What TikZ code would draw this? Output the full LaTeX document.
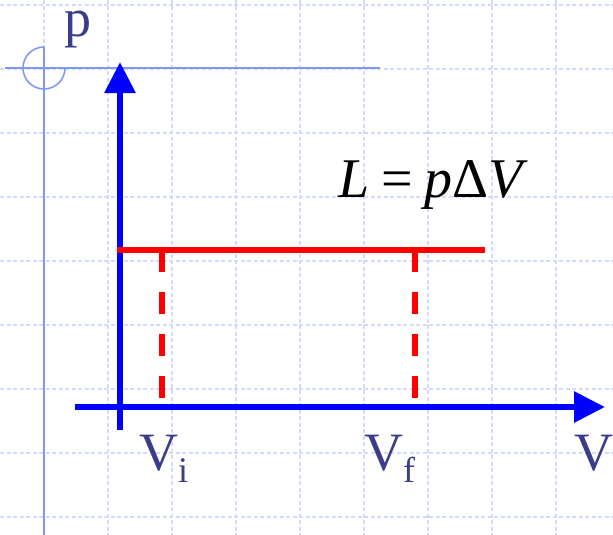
\documentclass[tikz,border=0pt]{standalone}
\usepackage{fontspec}
\setmainfont{Liberation Serif}
\usetikzlibrary{arrows.meta}
\definecolor{axisblue}{HTML}{0000FF}
\definecolor{workred}{HTML}{FF0000}
\definecolor{gridblue}{HTML}{D2DCFA}
\definecolor{ruleblue}{HTML}{7E9AF0}
\definecolor{labelblue}{HTML}{3A3D8A}
\newcommand{\labelfont}{\fontsize{54}{60}\selectfont}
\newcommand{\subfont}{\fontsize{36}{40}\selectfont}
\newcommand{\lawfont}{\fontsize{56}{62}\selectfont}
\newcommand{\sub}[1]{\raisebox{-12pt}{\subfont #1}}

\begin{document}
\begin{tikzpicture}[x=1pt,y=-1pt,
  gridline/.style={gridblue, line width=1.8pt, dash pattern=on 4pt off 2.5pt},
  ruleline/.style={ruleblue, line width=1.6pt},
  axis/.style={axisblue, line width=6pt, -{Triangle[length=31pt,width=30pt]}},
  isobar/.style={workred, line width=6pt},
  drop/.style={workred, line width=6pt, dash pattern=on 22pt off 20pt},
  axislabel/.style={text=labelblue, inner sep=0pt, anchor=base west, font=\labelfont}]
\useasboundingbox (0,0) rectangle (613,535);
% squared paper
\foreach \gx in {44,108,...,556} \draw[gridline] (\gx,0) -- (\gx,535);
\foreach \gy in {5,69,...,517} \draw[gridline] (0,\gy) -- (613,\gy);
% margin rule
\coordinate (ruleL) at (5,68);
\coordinate (ruleR) at (380,68);
\coordinate (ruleT) at (44,47);
\coordinate (ruleB) at (44,535);
\draw[ruleline] (ruleL) -- (ruleR);
\draw[ruleline] (ruleT) -- (ruleB);
\draw[ruleline] (65,68) arc[start angle=0, end angle=270, radius=21];
% axes
\coordinate (ybot) at (120,430);
\coordinate (ytop) at (120,62);
\coordinate (xleft) at (75,407);
\coordinate (xright) at (605,407);
\draw[axis] (ybot) -- (ytop);
\draw[axis] (xleft) -- (xright);
% p = const
\coordinate (pstart) at (117,250);
\coordinate (pend) at (485,250);
\coordinate (vitop) at (162,250);
\coordinate (vibot) at (162,403);
\coordinate (vftop) at (415,250);
\coordinate (vfbot) at (415,403);
\draw[isobar] (pstart) -- (pend);
\draw[drop] (vitop) -- (vibot);
\draw[drop] (vftop) -- (vfbot);
% labels
\node[axislabel] (plabel) at (64,37) {p};
\node[axislabel] (vilabel) at (139,470) {V\sub{i}};
\node[axislabel] (vflabel) at (364,470) {V\sub{f}};
\node[axislabel] (vlabel) at (574,470) {V};
\node[inner sep=0pt, anchor=base west, font=\lawfont] (law) at (338,197)
  {\textit{L}\hspace{12pt}=\hspace{12pt}\textit{p}Δ\textit{V}};
\end{tikzpicture}
\end{document}
